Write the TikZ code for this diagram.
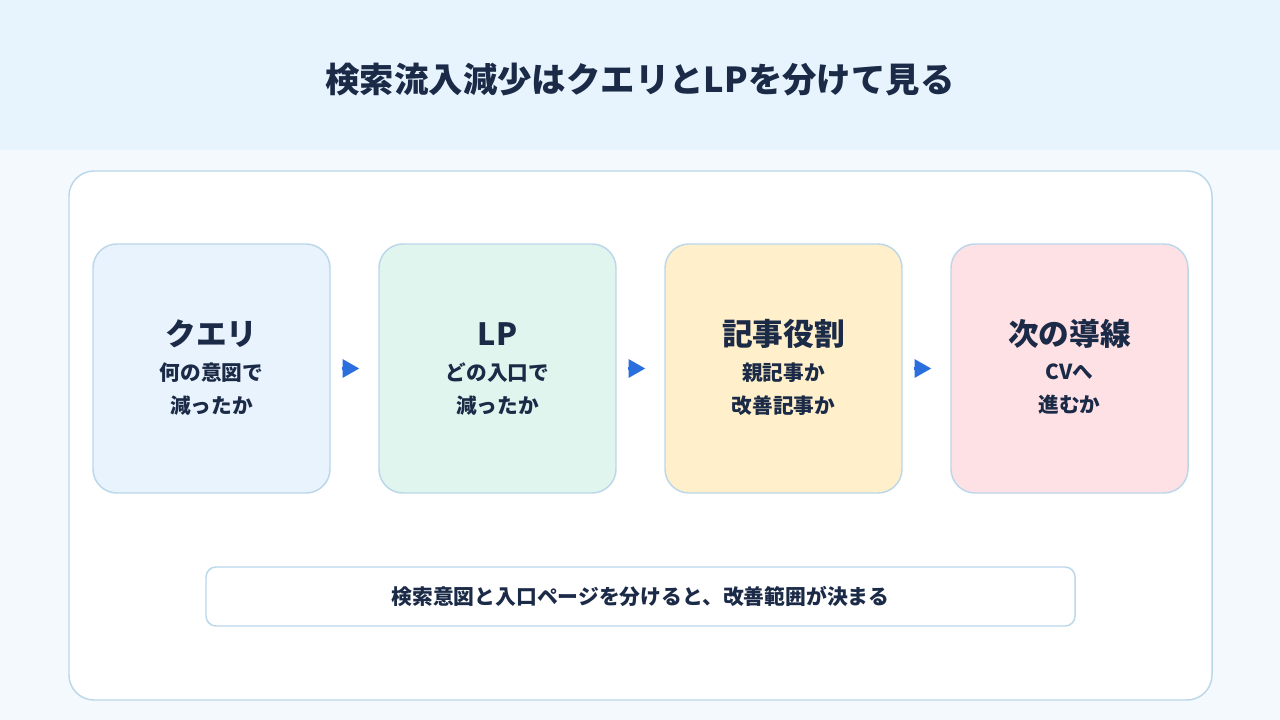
\documentclass[tikz,border=0pt]{standalone}
\usepackage{fontspec}
\setmainfont{Noto Sans CJK JP}
\usetikzlibrary{arrows.meta}

\definecolor{ink}{HTML}{1B2A47}
\definecolor{headbg}{HTML}{E8F4FD}
\definecolor{pagebg}{HTML}{F4F9FD}
\definecolor{edge}{HTML}{BBD7EA}
\definecolor{flowblue}{HTML}{2B6FDE}
\definecolor{qfill}{HTML}{E8F3FD}
\definecolor{lpfill}{HTML}{E0F5EE}
\definecolor{rolefill}{HTML}{FFF0CB}
\definecolor{leadfill}{HTML}{FEE1E5}

\begin{document}
\begin{tikzpicture}[x=0.75pt, y=-0.75pt,
    box/.style={draw=edge, line width=1.1pt, rounded corners=18pt,
        minimum width=177.75pt, minimum height=186.75pt, inner sep=0pt},
    head/.style={text=ink, font=\fontsize{23}{27}\selectfont\bfseries},
    sub/.style={text=ink, align=center, font=\fontsize{15.5}{24.75}\selectfont\bfseries},
    flow/.style={flowblue, line width=2.25pt, -{Triangle[length=12.5pt, width=13.5pt]}}]

    % Background
    \fill[pagebg] (0,0) rectangle (1280,720);
    \fill[headbg] (0,0) rectangle (1280,150);
    \node[text=ink, font=\fontsize{25.8}{30}\selectfont\bfseries] (title) at (640,80)
        {検索流入減少はクエリとLPを分けて見る};

    % Panel
    \draw[edge, fill=white, line width=1.1pt, rounded corners=18.75pt]
        (69,171) rectangle (1212,700);

    % Steps
    \node[box, fill=qfill] (q) at (211.5,368.5) {};
    \node[head] (qhead) at (211.5,334) {クエリ};
    \node[sub] (qsub) at (211.5,389.5) {何の意図で\\減ったか};

    \node[box, fill=lpfill] (lp) at (497.5,368.5) {};
    \node[head] (lphead) at (497.5,334) {LP};
    \node[sub] (lpsub) at (497.5,389.5) {どの入口で\\減ったか};

    \node[box, fill=rolefill] (role) at (783.5,368.5) {};
    \node[head] (rolehead) at (783.5,334) {記事役割};
    \node[sub] (rolesub) at (783.5,389.5) {親記事か\\改善記事か};

    \node[box, fill=leadfill] (lead) at (1069.5,368.5) {};
    \node[head] (leadhead) at (1069.5,334) {次の導線};
    \node[sub] (leadsub) at (1069.5,389.5) {CVへ\\進むか};

    % Arrows
    \draw[flow] ([xshift=8.25pt]q.east) -- ([xshift=-14.25pt]lp.west);
    \draw[flow] ([xshift=8.25pt]lp.east) -- ([xshift=-14.25pt]role.west);
    \draw[flow] ([xshift=8.25pt]role.east) -- ([xshift=-14.25pt]lead.west);

    % Note
    \node[draw=edge, fill=white, line width=1.1pt, rounded corners=7.5pt,
        minimum width=651.75pt, minimum height=44.25pt, text=ink,
        font=\fontsize{15.6}{18}\selectfont\bfseries] (note) at (640.5,596.5)
        {検索意図と入口ページを分けると、改善範囲が決まる};
\end{tikzpicture}
\end{document}
